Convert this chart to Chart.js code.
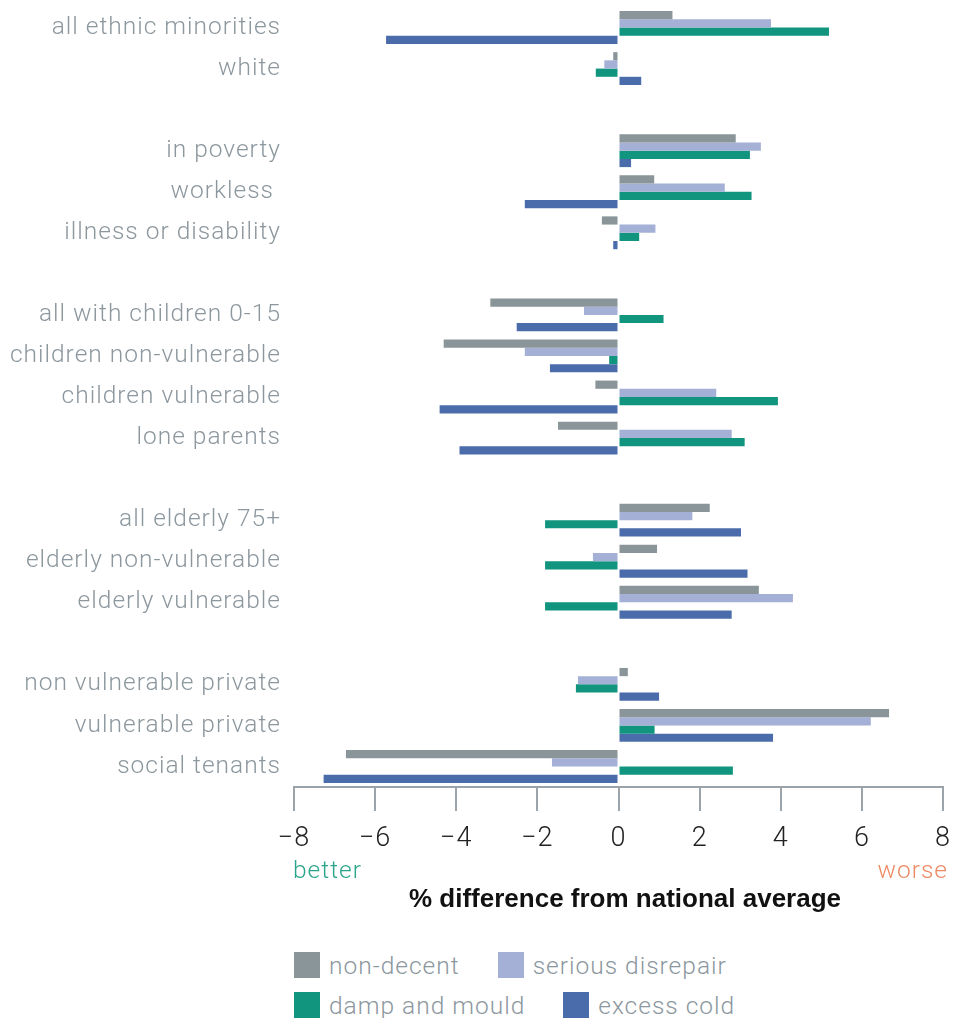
<!DOCTYPE html>
<html>
<head>
<meta charset="utf-8">
<script src="https://cdn.jsdelivr.net/npm/chart.js@4"></script>
<style>
  body { margin: 0; background: #fff; }
  #wrap { position: relative; width: 956px; height: 1018px; }
  #box { position: absolute; left: 0; top: 0; width: 956px; height: 930px; }
  #legend { position: absolute; left: 294px; top: 952px; font-family: Roboto, sans-serif; font-weight: 300; font-size: 24.5px; letter-spacing: 1px; color: #8c979e; }
  .row { display: flex; align-items: center; height: 26px; margin-bottom: 14px; }
  .item { display: flex; align-items: center; margin-right: 38px; }
  .swatch { width: 26px; height: 26px; margin-right: 9px; }
</style>
</head>
<body>
<div id="wrap">
  <div id="box"><canvas id="chart"></canvas></div>
  <div id="legend"></div>
</div>
<script>
let categories = ['all ethnic minorities', 'white', '',
    'in poverty', 'workless ', 'illness or disability', '',
    'all with children 0-15', 'children non-vulnerable', 'children vulnerable', 'lone parents', '',
    'all elderly 75+', 'elderly non-vulnerable', 'elderly vulnerable', '',
    'non vulnerable private', 'vulnerable private', 'social tenants'];

let nonDecent        = [1.33, -0.13, null, 2.89, 0.88, -0.41, null, -3.16, -4.31, -0.57, -1.49, null, 2.25, 0.95, 3.46, null, 0.23, 6.67, -6.72];
let seriousDisrepair = [3.76, -0.35, null, 3.51, 2.62, 0.91, null, -0.85, -2.31, 2.41, 2.79, null, 1.82, -0.63, 4.30, null, -1.00, 6.22, -1.64];
let dampMould        = [5.19, -0.56, null, 3.24, 3.28, 0.51, null, 1.11, -0.23, 3.93, 3.11, null, -1.81, -1.81, -1.81, null, -1.05, 0.89, 2.82];
let excessCold       = [-5.73, 0.56, null, 0.31, -2.31, -0.13, null, -2.51, -1.69, -4.41, -3.92, null, 3.02, 3.18, 2.79, null, 1.00, 3.81, -7.27];

let seriesNames = ['non-decent', 'serious disrepair', 'damp and mould', 'excess cold'];
let seriesData = [nonDecent, seriousDisrepair, dampMould, excessCold];
let seriesColors = ['#8a9599', '#a4b0d6', '#11957e', '#4a6cab'];
let legendRows = [[0, 1], [2, 3]];

let xMin = -8, xMax = 8, xStep = 2;
let xTitle = '% difference from national average';

let axisGrey = '#9aa4aa';
let labelFont = 'Roboto, sans-serif';

// the original type is a wide light face, so space the letters out a bit
let spacing = {
    id: 'spacing',
    beforeDraw(chart) { chart.ctx.letterSpacing = '1px'; }
};

// better / worse under the axis ends, and the axis title
let endNotes = {
    id: 'endNotes',
    afterDraw(chart) {
        let ctx = chart.ctx;
        let x = chart.scales.x;
        let base = chart.chartArea.bottom;
        ctx.save();
        ctx.font = '300 24.5px ' + labelFont;
        ctx.textBaseline = 'alphabetic';
        ctx.fillStyle = '#2aa58c';
        ctx.textAlign = 'left';
        ctx.fillText('better', x.left - 1, base + 91);
        ctx.fillStyle = '#ec8a62';
        ctx.textAlign = 'right';
        ctx.fillText('worse', x.right + 5, base + 91);

        ctx.letterSpacing = '0px';
        ctx.font = "bold 26px 'Liberation Sans', Arial, sans-serif";
        ctx.fillStyle = '#111';
        ctx.textAlign = 'center';
        ctx.textBaseline = 'middle';
        ctx.fillText(xTitle, (x.left + chart.width) / 2, base + 113);
        ctx.restore();
    }
};

let myChart = document.getElementById('chart').getContext('2d');
let chart = new Chart(myChart, {
    type: 'bar',
    data: {
        labels: categories,
        datasets: seriesNames.map((name, i) => ({
            label: name,
            data: seriesData[i],
            backgroundColor: seriesColors[i],
            categoryPercentage: 0.8,
            barPercentage: 1.0
        }))
    },
    options: {
        indexAxis: 'y',
        responsive: true,
        maintainAspectRatio: false,
        animation: false,
        layout: { padding: { top: 7, right: 13, left: 0, bottom: 0 } },
        plugins: {
            legend: { display: false },
            tooltip: { enabled: false }
        },
        scales: {
            y: {
                afterFit(scale) {
                    scale.width = 294;
                    scale.paddingTop = 0;
                    scale.paddingBottom = 0;
                },
                grid: { display: false, drawTicks: false },
                border: { display: false },
                ticks: {
                    autoSkip: false,
                    padding: 13,
                    color: '#8c979e',
                    font: { family: labelFont, weight: '300', size: 24.5 }
                }
            },
            x: {
                min: xMin,
                max: xMax,
                afterFit(scale) {
                    scale.height = 143;
                    scale.paddingLeft = 0;
                    scale.paddingRight = 0;
                },
                grid: {
                    drawOnChartArea: false,
                    drawTicks: true,
                    tickLength: 24,
                    color: axisGrey,
                    lineWidth: 2
                },
                border: { display: true, color: axisGrey, width: 2 },
                ticks: {
                    stepSize: xStep,
                    padding: 12,
                    color: '#222',
                    font: { family: labelFont, weight: '300', size: 27 },
                    callback: v => String(v).replace('-', '\u2212')
                }
            }
        }
    },
    plugins: [spacing, endNotes]
});

// legend, two rows
let legend = document.getElementById('legend');
legendRows.forEach(row => {
    let r = document.createElement('div');
    r.className = 'row';
    row.forEach(i => {
        let it = document.createElement('div');
        it.className = 'item';
        let sw = document.createElement('span');
        sw.className = 'swatch';
        sw.style.background = seriesColors[i];
        let tx = document.createElement('span');
        tx.textContent = seriesNames[i];
        it.appendChild(sw);
        it.appendChild(tx);
        r.appendChild(it);
    });
    legend.appendChild(r);
});
</script>
</body>
</html>
